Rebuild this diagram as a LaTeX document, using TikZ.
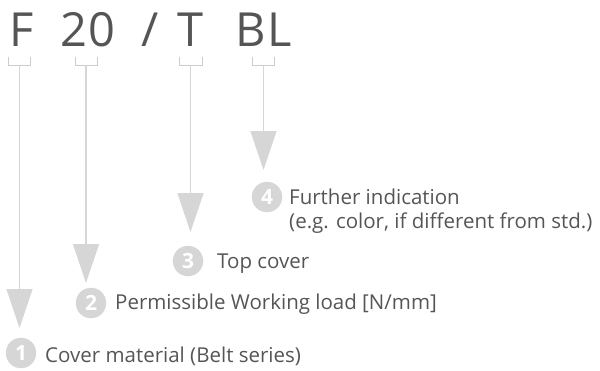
\documentclass[tikz,border=0pt]{standalone}
\usepackage{fontspec}
\setmainfont{Open Sans}
\usetikzlibrary{arrows.meta}
\definecolor{txt}{HTML}{555555}
\definecolor{lgray}{HTML}{D6D6D6}
\definecolor{bgray}{HTML}{CCCCCC}
\tikzset{
  title/.style={text=txt, font=\fontsize{47}{50}\selectfont, inner sep=0pt, anchor=base},
  brk/.style={draw=bgray, line width=0.9pt},
  conn/.style={draw=lgray, line width=1.4pt, -{Triangle[width=26pt,length=39pt]}, lgray},
  num/.style={circle, fill=lgray, minimum size=30.5pt, inner sep=0pt, text=white, font=\fontsize{21}{21}\selectfont\bfseries},
  lbl/.style={text=txt, font=\fontsize{20.5}{24}\selectfont, inner sep=0pt, anchor=base west}
}
\begin{document}
\begin{tikzpicture}[x=1pt,y=-1pt]
\useasboundingbox (0,0) rectangle (600,370);
% title
\node[title] (tF) at (22,46) {F};
\node[title] (t2) at (74,46) {2};
\node[title] (t0) at (102,46) {0};
\node[title] (tS) at (150,46) {/};
\node[title] (tT) at (190.5,46) {T};
\node[title] (tB) at (251,46) {B};
\node[title] (tL) at (280,46) {L};
% brackets
\draw[brk] (8,57) -- (8,65) -- (30,65) -- (30,57);
\draw[brk] (75,57) -- (75,65) -- (97,65) -- (97,57);
\draw[brk] (179,57) -- (179,65) -- (202,65) -- (202,57);
\draw[brk] (252,57) -- (252,65) -- (274,65) -- (274,57);
\coordinate (b1) at (19.5,65);
\coordinate (b2) at (86,65);
\coordinate (b3) at (190.5,65);
\coordinate (b4) at (263.5,65);
\coordinate (e1) at (19.5,328);
\coordinate (e2) at (86,283);
\coordinate (e3) at (190.5,232);
\coordinate (e4) at (263.5,170);
\draw[conn] (b1) -- (e1);
\draw[conn] (b2) -- (e2);
\draw[conn] (b3) -- (e3);
\draw[conn] (b4) -- (e4);
% numbers
\node[num] (c1) at (21,353) {1};
\node[num] (c2) at (91,303) {2};
\node[num] (c3) at (188,261) {3};
\node[num] (c4) at (267,197) {4};
% labels
\node[lbl] (l1) at (45,362) {Cover material (Belt series)};
\node[lbl] (l2) at (115,309) {Permissible Working load [N/mm]};
\node[lbl] (l3) at (217,268) {Top cover};
\node[lbl] (l4a) at (289,204) {Further indication};
\node[lbl] (l4b) at (289,228) {(e.g. color, if different from std.)};
\end{tikzpicture}
\end{document}
